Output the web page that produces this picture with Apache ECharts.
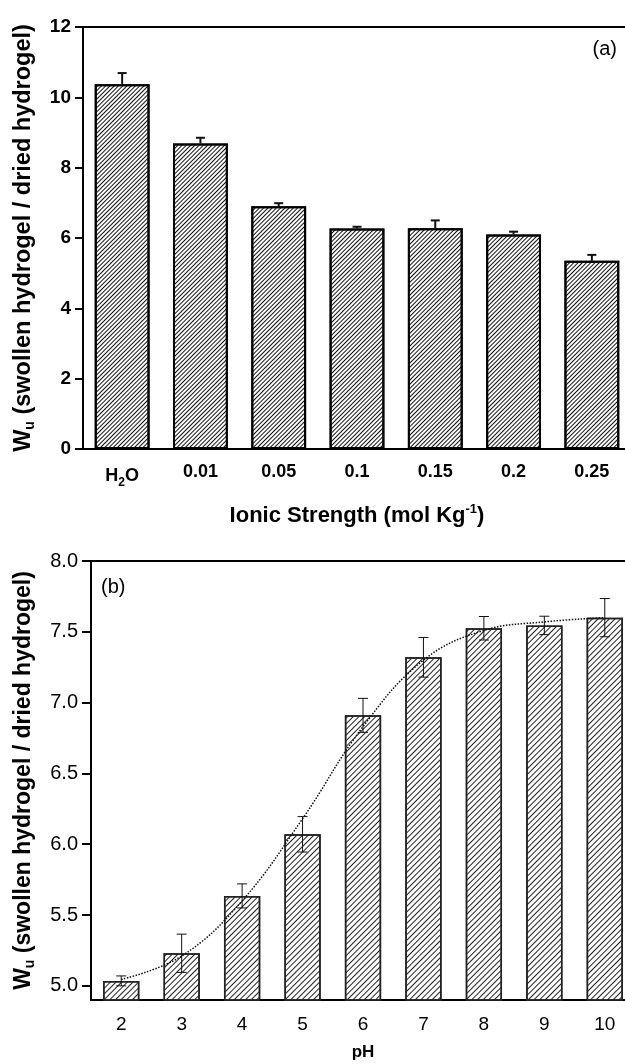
<!DOCTYPE html>
<html>
<head>
<meta charset="utf-8">
<script src="https://cdn.jsdelivr.net/npm/echarts@6/dist/echarts.min.js"></script>
<style>
  html, body { margin: 0; padding: 0; background: #fff; }
  #main { width: 625px; height: 1064px; }
</style>
</head>
<body>
<div id="main"></div>
<script>
// panel (a): swelling vs ionic strength
const ionicCategories = ["H2O", "0.01", "0.05", "0.1", "0.15", "0.2", "0.25"];
const ionicValues = [10.37, 8.69, 6.90, 6.27, 6.28, 6.10, 5.35];
const ionicErrors = [0.32, 0.16, 0.09, 0.05, 0.22, 0.08, 0.17];

// panel (b): swelling vs pH
const phCategories = ["2", "3", "4", "5", "6", "7", "8", "9", "10"];
const phValues = [5.035, 5.23, 5.635, 6.07, 6.91, 7.32, 7.525, 7.545, 7.60];
const phErrors = [0.035, 0.135, 0.085, 0.125, 0.12, 0.14, 0.083, 0.065, 0.135];
const phFit = [5.045, 5.21, 5.60, 6.18, 6.83, 7.30, 7.51, 7.57, 7.60];
const phTicks = [5.0, 5.5, 6.0, 6.5, 7.0, 7.5, 8.0];
const phMinorTicks = [5.25, 5.75, 6.25, 6.75, 7.25, 7.75];

const font = "'Liberation Sans', Arial, sans-serif";
const yName = "W{u|u} (swollen hydrogel / dried hydrogel)";

function hatch(color, gap) {
  return {
    symbol: "rect",
    symbolSize: 1,
    dashArrayX: [1, 0],
    dashArrayY: [1, gap],
    rotation: -Math.PI / 4,
    color: color
  };
}

function errorSeries(values, errors, xi, yi, both, lw, cap) {
  return {
    type: "custom",
    xAxisIndex: xi,
    yAxisIndex: yi,
    z: 4,
    encode: { x: 0, y: 1 },
    data: values.map((v, i) => [i, v, errors[i]]),
    renderItem: function (params, api) {
      const i = api.value(0), v = api.value(1), e = api.value(2);
      const hi = api.coord([i, v + e]);
      const lo = api.coord([i, both ? v - e : v]);
      const style = { stroke: "#111", lineWidth: lw };
      const kids = [
        { type: "line", shape: { x1: hi[0], y1: hi[1], x2: lo[0], y2: lo[1] }, style: style },
        { type: "line", shape: { x1: hi[0] - cap, y1: hi[1], x2: hi[0] + cap, y2: hi[1] }, style: style }
      ];
      if (both) {
        kids.push({ type: "line", shape: { x1: lo[0] - cap, y1: lo[1], x2: lo[0] + cap, y2: lo[1] }, style: style });
      }
      return { type: "group", children: kids };
    }
  };
}

const chart = echarts.init(document.getElementById("main"));

const option = {
  animation: false,
  backgroundColor: "#fff",
  textStyle: { fontFamily: font, color: "#000" },
  title: [
    { text: "(a)", right: 3, top: 34, textStyle: { fontFamily: font, fontSize: 20, fontWeight: "normal", color: "#000" } },
    { text: "(b)", left: 96, top: 572, textStyle: { fontFamily: font, fontSize: 20, fontWeight: "normal", color: "#000" } }
  ],
  grid: [
    { left: 83, top: 27, width: 548, height: 422, outerBoundsMode: "none", containLabel: false,
      show: true, borderColor: "#000", borderWidth: 2, backgroundColor: "transparent" },
    { left: 91, top: 561, width: 544, height: 439, outerBoundsMode: "none", containLabel: false,
      show: true, borderColor: "#000", borderWidth: 2, backgroundColor: "transparent" }
  ],
  xAxis: [
    {
      gridIndex: 0, type: "category", data: ionicCategories, position: "bottom",
      axisLine: { lineStyle: { color: "#000", width: 2 } },
      axisTick: { alignWithLabel: true, length: 7, lineStyle: { color: "#000", width: 2 } },
      axisLabel: {
        interval: 0, fontFamily: font, fontSize: 18, fontWeight: "bold", color: "#000", margin: 14,
        formatter: v => v === "H2O" ? "H{s|2}O" : v,
        rich: { s: { fontFamily: font, fontSize: 12, fontWeight: "bold", padding: [14, 0, 0, 0] } }
      },
      name: "Ionic Strength (mol Kg{sup|-1})",
      nameLocation: "middle", nameGap: 54,
      nameTextStyle: {
        fontFamily: font, fontSize: 22, fontWeight: "bold", color: "#000",
        rich: { sup: { fontFamily: font, fontSize: 13, fontWeight: "bold", padding: [0, 0, 12, 0] } }
      },
      splitLine: { show: false }
    },
    {
      gridIndex: 0, type: "category", data: ionicCategories, position: "bottom",
      axisLine: { show: false },
      axisTick: { interval: 0, length: 4, lineStyle: { color: "#000", width: 2 } },
      axisLabel: { show: false },
      splitLine: { show: false }
    },
    {
      gridIndex: 1, type: "category", data: phCategories, position: "bottom",
      axisLine: { lineStyle: { color: "#000", width: 2 } },
      axisTick: { alignWithLabel: true, interval: 0, length: 7, lineStyle: { color: "#000", width: 2 } },
      axisLabel: { interval: 0, fontFamily: font, fontSize: 19, color: "#000", margin: 15 },
      name: "pH", nameLocation: "middle", nameGap: 44,
      nameTextStyle: { fontFamily: font, fontSize: 17, fontWeight: "bold", color: "#000" },
      splitLine: { show: false }
    },
    {
      gridIndex: 1, type: "category", data: phCategories, position: "bottom",
      axisLine: { show: false },
      axisTick: { interval: 0, length: 5, lineStyle: { color: "#000", width: 2 } },
      axisLabel: { show: false },
      splitLine: { show: false }
    }
  ],
  yAxis: [
    {
      gridIndex: 0, type: "value", min: 0, max: 12, interval: 2,
      axisLine: { show: true, lineStyle: { color: "#000", width: 2 } },
      axisTick: { show: true, length: 8, lineStyle: { color: "#000", width: 2 } },
      axisLabel: { fontFamily: font, fontSize: 19, fontWeight: "bold", color: "#000", margin: 12 },
      splitLine: { show: false },
      name: yName, nameLocation: "middle", nameGap: 46, nameRotate: 90,
      nameTextStyle: {
        fontFamily: font, fontSize: 23.5, fontWeight: "bold", color: "#000",
        rich: { u: { fontFamily: font, fontSize: 14, fontWeight: "bold", padding: [13, 0, 0, 0] } }
      }
    },
    {
      gridIndex: 1, type: "value", min: 4.9, max: 8.0,
      axisLine: { show: true, lineStyle: { color: "#000", width: 2 } },
      axisTick: { show: true, length: 9, customValues: phTicks, lineStyle: { color: "#000", width: 2 } },
      axisLabel: { fontFamily: font, fontSize: 20, color: "#000", margin: 13, customValues: phTicks, formatter: v => v.toFixed(1) },
      splitLine: { show: false },
      name: yName, nameLocation: "middle", nameGap: 54, nameRotate: 90,
      nameTextStyle: {
        fontFamily: font, fontSize: 23, fontWeight: "bold", color: "#000",
        rich: { u: { fontFamily: font, fontSize: 14, fontWeight: "bold", padding: [13, 0, 0, 0] } }
      }
    },
    {
      gridIndex: 1, type: "value", min: 4.9, max: 8.0,
      axisLine: { show: false },
      axisTick: { show: true, length: 5, customValues: phMinorTicks, lineStyle: { color: "#000", width: 2 } },
      axisLabel: { show: false },
      splitLine: { show: false }
    }
  ],
  series: [
    {
      type: "bar", xAxisIndex: 0, yAxisIndex: 0, data: ionicValues, barWidth: "70%",
      itemStyle: { color: "#fff", borderColor: "#000", borderWidth: 2, decal: hatch("#111", 2) }
    },
    errorSeries(ionicValues, ionicErrors, 0, 0, false, 2, 4.5),
    {
      type: "bar", xAxisIndex: 2, yAxisIndex: 1, data: phValues, barWidth: "60%",
      itemStyle: { color: "#fff", borderColor: "#222", borderWidth: 1.5, decal: hatch("#222", 2.5) }
    },
    errorSeries(phValues, phErrors, 2, 1, true, 1, 5),
    {
      type: "line", xAxisIndex: 2, yAxisIndex: 1, data: phFit, smooth: 0.4,
      symbol: "none", z: 5,
      lineStyle: { type: "dotted", width: 1.5, color: "#111" }
    }
  ]
};

chart.setOption(option);
</script>
</body>
</html>
